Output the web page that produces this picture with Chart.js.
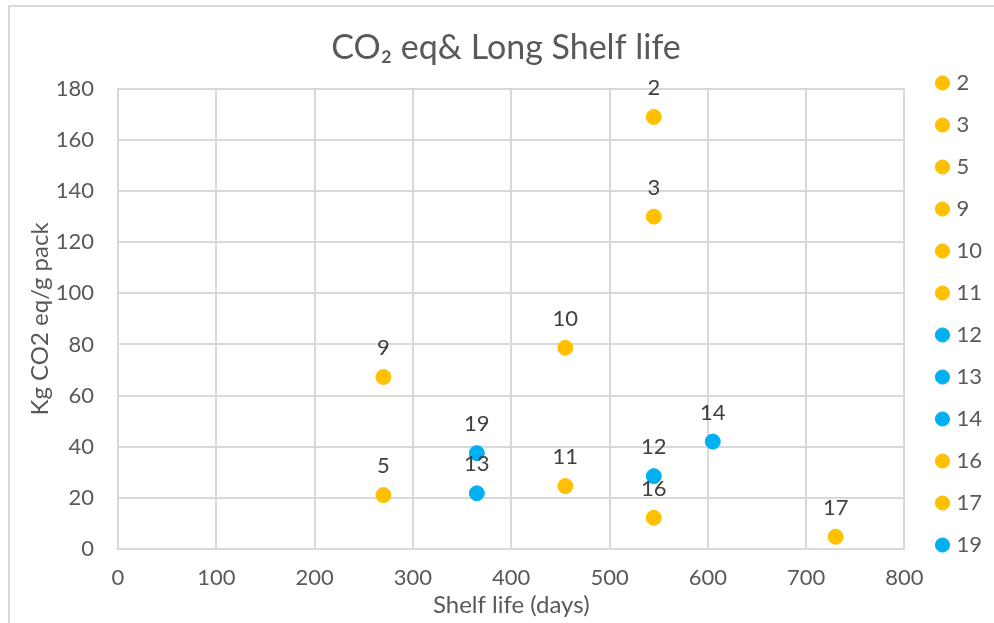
<!DOCTYPE html>
<html>
<head>
<meta charset="utf-8">
<script src="https://cdn.jsdelivr.net/npm/chart.js@4/dist/chart.umd.min.js"></script>
<style>
  html, body { margin: 0; padding: 0; background: #fff; }
  #wrap { position: relative; width: 994px; height: 623px; }
  #frame { position: absolute; left: 8px; top: 5px; right: 0; bottom: 0;
           border-top: 2px solid #d9d9d9; border-left: 2px solid #d9d9d9; pointer-events: none; }
</style>
</head>
<body>
<div id="wrap">
  <canvas id="chart" width="994" height="623"></canvas>
  <div id="frame"></div>
</div>
<script>
// sample ids (legend order), shelf life (days), kg CO2 eq / g pack
var samples   = ["2", "3", "5", "9", "10", "11", "12", "13", "14", "16", "17", "19"];
var shelfLife = [545, 545, 270, 270, 455, 455, 545, 365, 605, 545, 730, 365];
var co2eq     = [169, 130, 21.1, 67.3, 78.7, 24.6, 28.5, 21.8, 42, 12.2, 4.8, 37.5];
var group     = ["o", "o", "o", "o", "o", "o", "b", "b", "b", "o", "o", "b"];

var xTicks = [0, 100, 200, 300, 400, 500, 600, 700, 800];
var yTicks = [0, 20, 40, 60, 80, 100, 120, 140, 160, 180];

var ORANGE = "#FFC000";
var BLUE = "#00B0F0";
var FONT = "Lato, 'Open Sans', sans-serif";

var datasets = samples.map(function(s, i) {
  var c = group[i] === "b" ? BLUE : ORANGE;
  return {
    label: s,
    data: [{ x: shelfLife[i], y: co2eq[i] }],
    backgroundColor: c,
    borderColor: c,
    pointRadius: 7.5,
    pointHoverRadius: 7.5,
    pointStyle: "circle"
  };
});

// labels above each point
var pointLabels = {
  id: "pointLabels",
  afterDatasetsDraw: function(chart) {
    var ctx = chart.ctx;
    ctx.save();
    ctx.font = "22px " + FONT;
    ctx.fillStyle = "#404040";
    ctx.textAlign = "center";
    ctx.textBaseline = "middle";
    chart.data.datasets.forEach(function(ds, i) {
      var meta = chart.getDatasetMeta(i);
      meta.data.forEach(function(pt) {
        ctx.fillText(ds.label, pt.x, pt.y - 29);
      });
    });
    ctx.restore();
  }
};

// leave some room between plot area and legend
var LEGEND_GAP = 15;
var legendGap = {
  id: "legendGap",
  afterInit: function(chart) {
    var lg = chart.legend;
    var fit = lg.fit, draw = lg.draw;
    lg.fit = function() { fit.call(this); this.width += LEGEND_GAP; };
    lg.draw = function() { this.left += LEGEND_GAP; draw.call(this); this.left -= LEGEND_GAP; };
  }
};

new Chart(document.getElementById("chart"), {
  type: "scatter",
  data: { datasets: datasets },
  plugins: [pointLabels, legendGap],
  options: {
    responsive: false,
    animation: false,
    events: [],
    layout: { padding: { left: 20, right: 2, top: 5, bottom: 0 } },
    plugins: {
      title: {
        display: true,
        text: "CO₂ eq& Long Shelf life",
        color: "#595959",
        font: { family: FONT, size: 34, weight: "normal" },
        padding: { top: 23, bottom: 20 }
      },
      legend: {
        position: "right",
        labels: {
          usePointStyle: true,
          boxWidth: 6,
          boxHeight: 10,
          padding: 20,
          color: "#595959",
          font: { family: FONT, size: 22 }
        }
      },
      tooltip: { enabled: false }
    },
    scales: {
      x: {
        type: "linear",
        min: 0, max: 800,
        afterBuildTicks: function(axis) {
          axis.ticks = xTicks.map(function(v) { return { value: v }; });
        },
        afterFit: function(axis) { axis.height = 74; },
        grid: { color: "#d9d9d9", lineWidth: 2, drawTicks: false },
        border: { color: "#d9d9d9", width: 2 },
        ticks: { color: "#595959", padding: 16, font: { family: FONT, size: 22 }, maxRotation: 0 },
        title: {
          display: true,
          text: "Shelf life (days)",
          color: "#595959",
          font: { family: FONT, size: 24 },
          padding: { top: 0, bottom: 3 }
        }
      },
      y: {
        type: "linear",
        min: 0, max: 180,
        afterBuildTicks: function(axis) {
          axis.ticks = yTicks.map(function(v) { return { value: v }; });
        },
        afterFit: function(axis) { axis.width = 98; },
        grid: { color: "#d9d9d9", lineWidth: 2, drawTicks: false },
        border: { color: "#d9d9d9", width: 2 },
        ticks: { color: "#595959", padding: 24, font: { family: FONT, size: 22 } },
        title: {
          display: true,
          text: "Kg CO2 eq/g pack",
          color: "#595959",
          font: { family: FONT, size: 24 },
          padding: { top: 6, bottom: 0 }
        }
      }
    }
  }
});
</script>
</body>
</html>
